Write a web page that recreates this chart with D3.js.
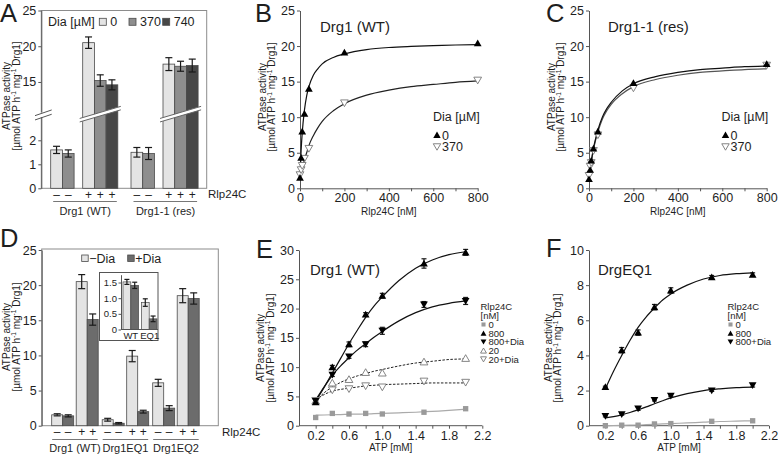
<!DOCTYPE html>
<html><head><meta charset="utf-8">
<script src="https://cdn.jsdelivr.net/npm/d3@7"></script>
<style>
body{margin:0;background:#fff;}
svg{display:block;}
</style></head><body>
<svg id="c" width="778" height="454"></svg>
<script>
// ---------- Panel A data ----------
const aGroups = ["Drg1 (WT)", "Drg1-1 (res)"];
const aDiaLevels = ["0", "370", "740"];
const aBarRlp = ["−", "−", "+", "+", "+"];
const aBarDia = ["0", "370", "0", "370", "740"];
const aWT = [1.6, 1.45, 20.5, 15.2, 14.6];
const aWTErr = [0.15, 0.15, 0.8, 0.8, 0.7];
const aRes = [1.5, 1.45, 17.5, 17.2, 17.3];
const aResErr = [0.2, 0.25, 0.9, 0.7, 0.9];
const aTicks = [0, 1, 2, 15, 20, 25];

// ---------- Panel B / C data ----------
const bcX = [0, 5, 10, 20, 40, 200, 800];
const b0 = [1.5, 4.3, 8.0, 10.5, 14.0, 19.1, 20.4];
const b370 = [1.9, 2.6, 3.2, 4.2, 5.6, 12.0, 15.2];
const c0 = [1.3, 2.6, 3.9, 5.6, 8.0, 14.8, 17.5];
const c370 = [1.8, 3.1, 3.6, 5.3, 7.5, 14.1, 17.3];
const bcFitX = [0, 5, 10, 20, 30, 40, 60, 80, 100, 150, 200, 300, 400, 500, 600, 700, 800];
const bFit0 = [1.4, 5.3, 7.8, 11.0, 13.0, 14.3, 15.9, 16.8, 17.5, 18.4, 18.9, 19.5, 19.8, 19.95, 20.05, 20.15, 20.2];
const bFit370 = [1.2, 2.0, 2.75, 4.0, 5.0, 6.0, 7.4, 8.5, 9.4, 10.9, 11.9, 13.1, 13.8, 14.3, 14.6, 14.9, 15.1];
const cFit0 = [1.2, 2.55, 3.7, 5.6, 7.0, 8.2, 10.0, 11.2, 12.1, 13.7, 14.7, 15.7, 16.3, 16.7, 16.9, 17.1, 17.2];
const cFit370 = [1.2, 2.5, 3.6, 5.4, 6.8, 7.9, 9.7, 10.9, 11.8, 13.3, 14.3, 15.3, 15.9, 16.3, 16.5, 16.7, 16.8];
const bcXTicks = [0, 100, 200, 300, 400, 500, 600, 700, 800];
const bcXLabels = [0, 200, 400, 600, 800];
const bcYTicks = [0, 5, 10, 15, 20, 25];

// ---------- Panel D data ----------
const dGroups = ["Drg1 (WT)", "Drg1EQ1", "Drg1EQ2"];
const dRlp = ["−", "+"];
const dDia = ["−Dia", "+Dia"];
const dWT = [1.55, 1.4, 20.5, 15.1];
const dWTErr = [0.15, 0.15, 1.0, 0.8];
const dEQ1 = [0.85, 0.35, 9.9, 2.0];
const dEQ1Err = [0.2, 0.1, 0.8, 0.2];
const dEQ2 = [6.1, 2.5, 18.5, 18.1];
const dEQ2Err = [0.5, 0.35, 1.0, 0.8];
const dTicks = [0, 5, 10, 15, 20, 25];
const insetCats = ["WT", "EQ1"];
const insetNoDia = [1.52, 0.86];
const insetNoDiaErr = [0.08, 0.12];
const insetDia = [1.41, 0.34];
const insetDiaErr = [0.1, 0.09];
const insetTicks = [0, 0.5, 1.0, 1.5];

// ---------- Panel E / F data ----------
const efX = [0.2, 0.4, 0.6, 0.8, 1.0, 1.5, 2.0];
const e0 = [1.4, 2.1, 2.0, 2.1, 2.0, 2.3, 2.9];
const e800 = [4.0, 10.0, 13.9, 19.0, 22.2, 27.7, 29.6];
const e800Err = [0.3, 0.3, 0.4, 0.3, 0.4, 0.8, 0.5];
const e800Dia = [4.2, 8.7, 11.8, 13.9, 16.2, 20.7, 21.3];
const e800DiaErr = [0.3, 0.3, 0.3, 0.4, 0.6, 0.5, 0.6];
const e20 = [4.2, 7.3, 7.9, 9.1, 9.0, 10.9, 11.5];
const e20Dia = [4.3, 6.1, 6.3, 6.8, 6.6, 7.6, 7.4];
const efFitX = [0.2, 0.3, 0.4, 0.5, 0.6, 0.7, 0.8, 0.9, 1.0, 1.2, 1.4, 1.6, 1.8, 2.0];
const eFit800 = [4.2, 6.5, 9.0, 11.5, 14.0, 16.3, 18.5, 20.4, 22.0, 24.8, 26.9, 28.3, 29.2, 29.7];
const eFit800Dia = [4.4, 6.6, 8.6, 10.2, 11.6, 12.9, 14.0, 15.1, 16.1, 17.9, 19.3, 20.3, 20.9, 21.3];
const eFit20 = [4.2, 5.6, 6.6, 7.4, 8.0, 8.5, 8.9, 9.3, 9.6, 10.2, 10.7, 11.0, 11.3, 11.4];
const eFit20Dia = [4.4, 5.3, 5.9, 6.2, 6.4, 6.6, 6.8, 6.9, 7.0, 7.1, 7.2, 7.3, 7.3, 7.3];
const eFit0 = [1.8, 1.83, 1.87, 1.9, 1.95, 1.98, 2.0, 2.05, 2.1, 2.2, 2.3, 2.45, 2.6, 2.8];
const f0 = [0.0, 0.03, 0.03, 0.1, 0.12, 0.25, 0.28];
const f800 = [2.2, 4.3, 5.3, 6.75, 7.7, 8.45, 8.6];
const f800Err = [0.05, 0.15, 0.15, 0.15, 0.15, 0.1, 0.1];
const f800Dia = [0.55, 0.65, 0.97, 1.46, 1.7, 2.0, 2.3];
const f800DiaErr = [0.05, 0.05, 0.1, 0.05, 0.05, 0.05, 0.1];
const fFit800 = [2.1, 3.1, 4.0, 4.85, 5.6, 6.2, 6.7, 7.15, 7.5, 8.0, 8.35, 8.55, 8.65, 8.7];
const fFit800Dia = [0.45, 0.52, 0.62, 0.75, 0.9, 1.07, 1.25, 1.42, 1.58, 1.83, 2.0, 2.1, 2.17, 2.2];
const fFit0 = [0.0, 0.01, 0.02, 0.03, 0.04, 0.06, 0.08, 0.1, 0.12, 0.16, 0.2, 0.24, 0.26, 0.28];
const efXTicks = [0.2, 0.4, 0.6, 0.8, 1.0, 1.2, 1.4, 1.6, 1.8, 2.0, 2.2];
const efXLabels = [0.2, 0.6, 1.0, 1.4, 1.8, 2.2];
const eYTicks = [0, 5, 10, 15, 20, 25, 30];
const fYTicks = [0, 2, 4, 6, 8, 10];

// ---------- drawing ----------
const FONT = '"Liberation Sans", Arial, Helvetica, sans-serif';
const TXT = "#1e1e1e", AX = "#555", FRAME = "#8c8c8c", BAROUT = "#4a4a4a";
const aColors = {"0": "#e4e4e4", "370": "#8e8e8e", "740": "#474747"};
const dColors = {"−Dia": "#e4e4e4", "+Dia": "#6c6c6c"};
const svg = d3.select("#c").attr("font-family", FONT);
svg.append("rect").attr("width", 778).attr("height", 454).attr("fill", "#fff");

function styleAxis(g, fs) {
  g.select(".domain").attr("stroke", AX).attr("stroke-width", 1);
  g.selectAll(".tick line").attr("stroke", AX);
  g.selectAll(".tick text").attr("fill", TXT).attr("font-size", fs || 12.5).attr("font-family", FONT);
}
function letter(t, x, y) {
  svg.append("text").attr("x", x).attr("y", y).attr("font-size", 25.5).attr("fill", TXT).text(t);
}
function yTitle(x1, x2, yc) {
  svg.append("text").attr("transform", `translate(${x1},${yc}) rotate(-90)`)
    .attr("text-anchor", "middle").attr("font-size", 10).attr("fill", TXT).text("ATPase activity");
  const t = svg.append("text").attr("transform", `translate(${x2},${yc}) rotate(-90)`)
    .attr("text-anchor", "middle").attr("font-size", 10).attr("fill", TXT);
  t.append("tspan").text("[µmol ATP h");
  t.append("tspan").attr("dy", -3.5).attr("font-size", 6.5).text("-1");
  t.append("tspan").attr("dy", 3.5).text(" mg");
  t.append("tspan").attr("dy", -3.5).attr("font-size", 6.5).text("-1");
  t.append("tspan").attr("dy", 3.5).text(" Drg1]");
}
function errBar(g, cx, y, v, e, cap) {
  const w = (cap || 6) / 2;
  const s = g.append("g").attr("stroke", "#1a1a1a").attr("stroke-width", 1.2);
  s.append("line").attr("x1", cx).attr("x2", cx).attr("y1", y(v - e)).attr("y2", y(v + e));
  s.append("line").attr("x1", cx - w).attr("x2", cx + w).attr("y1", y(v + e)).attr("y2", y(v + e));
  s.append("line").attr("x1", cx - w).attr("x2", cx + w).attr("y1", y(v - e)).attr("y2", y(v - e));
}
const triUp = d3.symbol().type(d3.symbolTriangle);
const sq = d3.symbol().type(d3.symbolSquare);
function marker(g, kind, cx, cy, size) {
  const s = size || 26;
  if (kind === "up") g.append("path").attr("d", triUp.size(s)()).attr("transform", `translate(${cx},${cy + 0.8})`).attr("fill", "#000");
  else if (kind === "down") g.append("path").attr("d", triUp.size(s)()).attr("transform", `translate(${cx},${cy - 0.8}) rotate(180)`).attr("fill", "#000");
  else if (kind === "openUp") g.append("path").attr("d", triUp.size(s)()).attr("transform", `translate(${cx},${cy + 0.8})`).attr("fill", "#fff").attr("stroke", "#777").attr("stroke-width", 0.9);
  else if (kind === "openDown") g.append("path").attr("d", triUp.size(s)()).attr("transform", `translate(${cx},${cy - 0.8}) rotate(180)`).attr("fill", "#fff").attr("stroke", "#777").attr("stroke-width", 0.9);
  else if (kind === "square") g.append("path").attr("d", sq.size(s * 1.1)()).attr("transform", `translate(${cx},${cy})`).attr("fill", "#9a9a9a");
}

// ===== Panel A =====
(function () {
  const g = svg.append("g");
  const y = d3.scaleLinear().domain([0, 3, 10.8, 25]).range([188.3, 116.3, 112, 10.5]);
  const xG = d3.scaleBand().domain(aGroups).range([50.7, 198.1]).paddingInner(0.1644).paddingOuter(0);
  const gapSlots = 0.735;
  const xs = d3.scaleLinear().domain([0, 5 + gapSlots]).range([0, xG.bandwidth()]);
  const bw = xs(1) - xs(0);
  const slot = i => i + (aBarRlp[i] === "+" ? gapSlots : 0);
  g.append("rect").attr("x", 41.3).attr("y", 10.5).attr("width", 165.4).attr("height", 177.8)
    .attr("fill", "none").attr("stroke", FRAME);
  const ax = g.append("g").attr("transform", "translate(41.3,0)")
    .call(d3.axisLeft(y).tickValues(aTicks).tickSize(3).tickPadding(2).tickSizeOuter(0));
  styleAxis(ax);
  const series = [aWT, aRes], errs = [aWTErr, aResErr];
  aGroups.forEach((grp, gi) => {
    series[gi].forEach((v, i) => {
      const x0 = xG(grp) + xs(slot(i));
      g.append("rect").attr("x", x0).attr("y", y(v)).attr("width", bw).attr("height", y(0) - y(v))
        .attr("fill", aColors[aBarDia[i]]).attr("stroke", BAROUT).attr("stroke-width", 0.8);
    });
  });
  const yb = (y(3) + y(10.8)) / 2;
  aGroups.forEach((grp) => {
    const xL = xG(grp) + xs(2 + gapSlots) - 3, xR = xG(grp) + xG.bandwidth() + 3;
    g.append("path").attr("d", `M${xL},${yb + 4.3}L${xR},${yb - 7.8}L${xR},${yb - 4.3}L${xL},${yb + 7.8}Z`).attr("fill", "#fff");
    g.append("line").attr("x1", xL).attr("y1", yb + 4.3).attr("x2", xR).attr("y2", yb - 7.8).attr("stroke", "#666");
    g.append("line").attr("x1", xL).attr("y1", yb + 7.8).attr("x2", xR).attr("y2", yb - 4.3).attr("stroke", "#666");
  });
  aGroups.forEach((grp, gi) => {
    series[gi].forEach((v, i) => {
      const cx = xG(grp) + xs(slot(i)) + bw / 2;
      errBar(g, cx, y, v, errs[gi][i], 7);
    });
  });
  g.append("rect").attr("x", 39).attr("y", yb - 1.5).attr("width", 5).attr("height", 4.5).attr("fill", "#fff");
  g.append("line").attr("x1", 35).attr("y1", yb + 1.5).attr("x2", 51.7).attr("y2", yb - 4.2).attr("stroke", "#555");
  g.append("line").attr("x1", 35).attr("y1", yb + 5.8).attr("x2", 51.7).attr("y2", yb + 0.1).attr("stroke", "#555");
  g.append("text").attr("x", 48).attr("y", 26.3).attr("font-size", 12.5).attr("fill", TXT).text("Dia [µM]");
  const lx = [99.3, 129, 162.7];
  aDiaLevels.forEach((d, i) => {
    g.append("rect").attr("x", lx[i]).attr("y", 18.3).attr("width", 7).attr("height", 7)
      .attr("fill", aColors[d]).attr("stroke", BAROUT).attr("stroke-width", 0.8);
    g.append("text").attr("x", lx[i] + 11).attr("y", 26.3).attr("font-size", 12.5).attr("fill", TXT).text(d);
  });
  aGroups.forEach((grp, gi) => {
    aBarRlp.forEach((s, i) => {
      g.append("text").attr("x", xG(grp) + xs(slot(i)) + bw / 2).attr("y", 198.5).attr("text-anchor", "middle")
        .attr("font-size", 12).attr("fill", TXT).text(s === "−" ? "–" : "+");
    });
    g.append("line").attr("x1", xG(grp) + 2.5).attr("x2", xG(grp) + xG.bandwidth() - 1).attr("y1", 201.5).attr("y2", 201.5).attr("stroke", "#777");
    g.append("text").attr("x", xG(grp) + xG.bandwidth() / 2 + 1).attr("y", 214.5).attr("text-anchor", "middle")
      .attr("font-size", 11).attr("fill", TXT).text(grp);
  });
  g.append("text").attr("x", 208).attr("y", 198).attr("font-size", 11.5).attr("fill", TXT).text("Rlp24C");
  yTitle(9.5, 19.5, 96);
  letter("A", 0, 21.5);
})();

// ===== Panels B, C =====
function mmPanel(opts) {
  const g = svg.append("g");
  const x = d3.scaleLinear().domain([0, 800]).range(opts.xr);
  const y = d3.scaleLinear().domain([0, 25]).range([188.3, 10.5]);
  const axB = g.append("g").attr("transform", `translate(0,${y(0)})`)
    .call(d3.axisBottom(x).tickValues(bcXTicks).tickSize(3).tickPadding(2).tickSizeOuter(0)
      .tickFormat(d => bcXLabels.includes(d) ? d : ""));
  styleAxis(axB);
  const axL = g.append("g").attr("transform", `translate(${x(0)},0)`)
    .call(d3.axisLeft(y).tickValues(bcYTicks).tickSize(3).tickPadding(2).tickSizeOuter(0));
  styleAxis(axL);
  const line = d3.line().x(d => x(d[0])).y(d => y(d[1])).curve(d3.curveMonotoneX);
  g.append("path").attr("d", line(bcFitX.map((v, i) => [v, opts.fit370[i]]))).attr("fill", "none").attr("stroke", opts.c370).attr("stroke-width", 1.2);
  g.append("path").attr("d", line(bcFitX.map((v, i) => [v, opts.fit0[i]]))).attr("fill", "none").attr("stroke", "#111").attr("stroke-width", 1.2);
  bcX.forEach((v, i) => marker(g, "openDown", x(v), y(opts.d370[i])));
  bcX.forEach((v, i) => marker(g, "up", x(v), y(opts.d0[i])));
  g.append("text").attr("x", opts.title[1]).attr("y", 31.7).attr("font-size", 15).attr("fill", TXT).text(opts.title[0]);
  g.append("text").attr("x", (x(0) + x(800)) / 2).attr("y", 214.5).attr("text-anchor", "middle").attr("font-size", 10).attr("fill", TXT).text("Rlp24C [nM]");
  const lx = opts.legX;
  g.append("text").attr("x", lx).attr("y", 121).attr("font-size", 12.5).attr("fill", TXT).text("Dia [µM]");
  marker(g, "up", lx + 4, 135, 24);
  g.append("text").attr("x", lx + 9).attr("y", 139.5).attr("font-size", 12.5).attr("fill", TXT).text("0");
  marker(g, "openDown", lx + 4, 146.7, 24);
  g.append("text").attr("x", lx + 9).attr("y", 151.2).attr("font-size", 12.5).attr("fill", TXT).text("370");
}
mmPanel({xr: [300, 477.7], d0: b0, d370: b370, fit0: bFit0, fit370: bFit370, c370: "#222", title: ["Drg1 (WT)", 320], legX: 433});
yTitle(265.5, 275, 97);
letter("B", 255, 21.5);
mmPanel({xr: [589, 766.7], d0: c0, d370: c370, fit0: cFit0, fit370: cFit370, c370: "#555", title: ["Drg1-1 (res)", 608], legX: 721.5});
yTitle(554.5, 564, 97);
letter("C", 546, 21.5);

// ===== Panel D =====
(function () {
  const g = svg.append("g");
  const y = d3.scaleLinear().domain([0, 25]).range([425.7, 250]);
  const xG = d3.scaleBand().domain(dGroups).range([51.7, 199.2]).paddingInner(0.0792).paddingOuter(0);
  const xR = d3.scaleBand().domain(dRlp).range([0, xG.bandwidth()]).paddingInner(0.102).paddingOuter(0);
  const xD = d3.scaleBand().domain(dDia).range([0, xR.bandwidth()]).padding(0);
  g.append("rect").attr("x", 41.7).attr("y", 249).attr("width", 176.6).attr("height", 176.7)
    .attr("fill", "none").attr("stroke", FRAME);
  const ax = g.append("g").attr("transform", "translate(41.7,0)")
    .call(d3.axisLeft(y).tickValues(dTicks).tickSize(3).tickPadding(2).tickSizeOuter(0));
  styleAxis(ax);
  const vals = [dWT, dEQ1, dEQ2], errs = [dWTErr, dEQ1Err, dEQ2Err];
  dGroups.forEach((grp, gi) => {
    dRlp.forEach((r, ri) => {
      dDia.forEach((d, di) => {
        const k = ri * 2 + di, v = vals[gi][k];
        const x0 = xG(grp) + xR(r) + xD(d);
        g.append("rect").attr("x", x0).attr("y", y(v)).attr("width", xD.bandwidth()).attr("height", y(0) - y(v))
          .attr("fill", dColors[d]).attr("stroke", BAROUT).attr("stroke-width", 0.8);
        errBar(g, x0 + xD.bandwidth() / 2, y, v, errs[gi][k], 7);
        g.append("text").attr("x", x0 + xD.bandwidth() / 2).attr("y", 436).attr("text-anchor", "middle")
          .attr("font-size", 12).attr("fill", TXT).text(r === "−" ? "–" : "+");
      });
    });
    g.append("line").attr("x1", xG(grp) + 0.5).attr("x2", xG(grp) + xG.bandwidth() - 0.5).attr("y1", 439.5).attr("y2", 439.5).attr("stroke", "#777");
    g.append("text").attr("x", xG(grp) + xG.bandwidth() / 2).attr("y", 452).attr("text-anchor", "middle")
      .attr("font-size", 11).attr("fill", TXT).text(grp);
  });
  g.append("text").attr("x", 222).attr("y", 436).attr("font-size", 11.5).attr("fill", TXT).text("Rlp24C");
  const lx = [81.7, 127.7];
  dDia.forEach((d, i) => {
    g.append("rect").attr("x", lx[i]).attr("y", 255).attr("width", 6.5).attr("height", 6.5)
      .attr("fill", dColors[d]).attr("stroke", BAROUT).attr("stroke-width", 0.8);
    g.append("text").attr("x", lx[i] + 7.5).attr("y", 262.8).attr("font-size", 12.5).attr("fill", TXT).text(d);
  });
  // inset
  const ig = g.append("g");
  ig.append("rect").attr("x", 99.5).attr("y", 272.5).attr("width", 58.5).attr("height", 68).attr("fill", "#fff").attr("stroke", "#555");
  const iy = d3.scaleLinear().domain([0, 1.75]).range([329.5, 274.7]);
  const ix = d3.scaleBand().domain(insetCats).range([123, 157]).paddingInner(0.15).paddingOuter(0);
  const ixd = d3.scaleBand().domain(dDia).range([0, ix.bandwidth()]);
  insetCats.forEach((c, i) => {
    [[insetNoDia, insetNoDiaErr, "−Dia"], [insetDia, insetDiaErr, "+Dia"]].forEach(([arr, er, d]) => {
      const x0 = ix(c) + ixd(d), v = arr[i];
      ig.append("rect").attr("x", x0).attr("y", iy(v)).attr("width", ixd.bandwidth()).attr("height", iy(0) - iy(v))
        .attr("fill", dColors[d]).attr("stroke", BAROUT).attr("stroke-width", 0.7);
      errBar(ig, x0 + ixd.bandwidth() / 2, iy, v, er[i], 5);
    });
    ig.append("text").attr("x", ix(c) + ix.bandwidth() / 2 + (i === 1 ? 0.5 : 0)).attr("y", 338.5).attr("text-anchor", "middle")
      .attr("font-size", 9.5).attr("fill", TXT).text(c);
  });
  const iax = ig.append("g").attr("transform", "translate(121,0)")
    .call(d3.axisLeft(iy).tickValues(insetTicks).tickSize(2.5).tickPadding(1.5).tickSizeOuter(0)
      .tickFormat(d => d === 0 ? "0" : d3.format(".1f")(d)));
  styleAxis(iax, 9.5);
  ig.append("line").attr("x1", 121).attr("x2", 158).attr("y1", iy(0)).attr("y2", iy(0)).attr("stroke", AX);
  yTitle(9.5, 19.5, 337);
  letter("D", 0, 247);
})();

// ===== Panels E, F =====
function atpPanel(opts) {
  const g = svg.append("g");
  const x = d3.scaleLinear().domain([0, 2.2]).range(opts.xr);
  const y = d3.scaleLinear().domain([0, opts.ymax]).range([425.7, 250]);
  const axB = g.append("g").attr("transform", `translate(0,${y(0)})`)
    .call(d3.axisBottom(x).tickValues(efXTicks).tickSize(3).tickPadding(2).tickSizeOuter(0)
      .tickFormat(d => efXLabels.some(l => Math.abs(l - d) < 1e-9) ? d3.format(".1f")(d) : ""));
  styleAxis(axB);
  axB.select(".domain").attr("d", `M${x(0)},0H${x(2.2)}`);
  const axL = g.append("g").attr("transform", `translate(${x(0)},0)`)
    .call(d3.axisLeft(y).tickValues(opts.yTicks).tickSize(3).tickPadding(2).tickSizeOuter(0));
  styleAxis(axL);
  const line = d3.line().x(d => x(d[0])).y(d => y(d[1])).curve(d3.curveMonotoneX);
  opts.fits.forEach(f => {
    g.append("path").attr("d", line(efFitX.map((v, i) => [v, f.vals[i]]))).attr("fill", "none")
      .attr("stroke", f.color).attr("stroke-width", f.w || 1.2).attr("stroke-dasharray", f.dash || null);
  });
  opts.series.forEach(s => {
    efX.forEach((v, i) => {
      if (s.err) errBar(g, x(v), y, s.vals[i], s.err[i], 5);
      marker(g, s.kind, x(v), y(s.vals[i]), 26);
    });
  });
  g.append("text").attr("x", opts.title[1]).attr("y", 275).attr("font-size", 15).attr("fill", TXT).text(opts.title[0]);
  g.append("text").attr("x", (x(0) + x(2.2)) / 2).attr("y", 450.5).attr("text-anchor", "middle").attr("font-size", 10).attr("fill", TXT).text("ATP [mM]");
  const lx = opts.legX;
  g.append("text").attr("x", lx).attr("y", 310).attr("font-size", 9.5).attr("fill", TXT).text("Rlp24C");
  g.append("text").attr("x", lx).attr("y", 319).attr("font-size", 9.5).attr("fill", TXT).text("[nM]");
  opts.legend.forEach((L, i) => {
    const yy = 324.5 + i * 8.7;
    marker(g, L[0], lx + 3, yy, 15);
    g.append("text").attr("x", lx + 8).attr("y", yy + 3.4).attr("font-size", 9.5).attr("fill", TXT).text(L[1]);
  });
}
atpPanel({
  xr: [299, 482.3], ymax: 30, yTicks: eYTicks, title: ["Drg1 (WT)", 310], legX: 480.5,
  fits: [
    {vals: eFit0, color: "#aaa"},
    {vals: eFit20Dia, color: "#222", dash: "2.5,1.5", w: 1},
    {vals: eFit20, color: "#222", dash: "2.5,1.5", w: 1},
    {vals: eFit800Dia, color: "#111"},
    {vals: eFit800, color: "#111"}
  ],
  series: [
    {vals: e0, kind: "square"},
    {vals: e20Dia, kind: "openDown"},
    {vals: e20, kind: "openUp"},
    {vals: e800Dia, kind: "down", err: e800DiaErr},
    {vals: e800, kind: "up", err: e800Err}
  ],
  legend: [["square", "0"], ["up", "800"], ["down", "800+Dia"], ["openUp", "20"], ["openDown", "20+Dia"]]
});
yTitle(264, 273.5, 348);
letter("E", 256, 258);
atpPanel({
  xr: [589, 769], ymax: 10, yTicks: fYTicks, title: ["DrgEQ1", 598], legX: 727.5,
  fits: [
    {vals: fFit0, color: "#aaa"},
    {vals: fFit800Dia, color: "#111"},
    {vals: fFit800, color: "#111"}
  ],
  series: [
    {vals: f0, kind: "square"},
    {vals: f800Dia, kind: "down", err: f800DiaErr},
    {vals: f800, kind: "up", err: f800Err}
  ],
  legend: [["square", "0"], ["up", "800"], ["down", "800+Dia"]]
});
yTitle(551.5, 561, 348);
letter("F", 546, 257);
</script>
</body></html>
